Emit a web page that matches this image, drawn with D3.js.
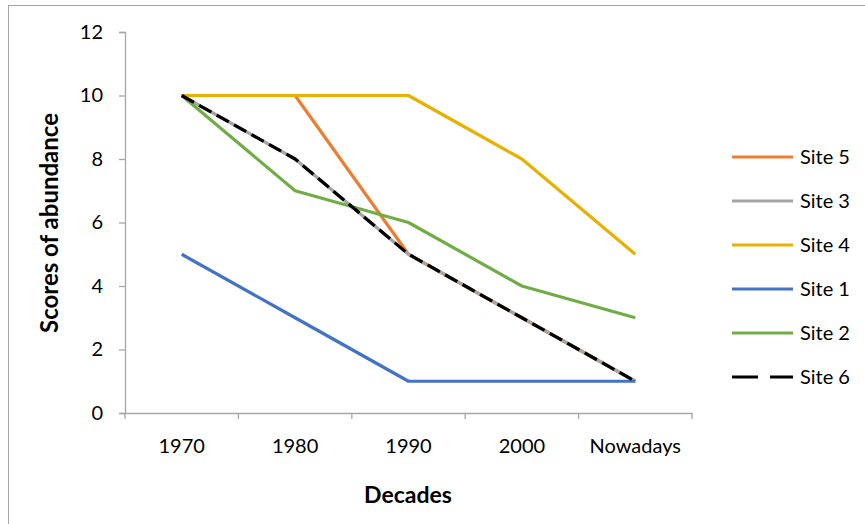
<!DOCTYPE html>
<html><head><meta charset="utf-8">
<script src="https://cdn.jsdelivr.net/npm/d3@7"></script>
<style>body{margin:0;background:#fff}svg{display:block}text{font-family:Lato,"Open Sans",sans-serif;fill:#000}</style>
</head><body><svg id="c" width="865" height="524"></svg>
<script>
const categories = ["1970","1980","1990","2000","Nowadays"];
const site5 = [10,10,5,3,1];
const site3 = [10,8,5,3,1];
const site4 = [10,10,10,8,5];
const site1 = [5,3,1,1,1];
const site2 = [10,7,6,4,3];
const site6 = [10,8,5,3,1];
const yTicks = [0,2,4,6,8,10,12];
const series = [
  {name:"Site 5", values:site5, color:"#ED7D31", dash:null},
  {name:"Site 3", values:site3, color:"#A5A5A5", dash:null},
  {name:"Site 4", values:site4, color:"#E8B000", dash:null},
  {name:"Site 1", values:site1, color:"#4472C4", dash:null},
  {name:"Site 2", values:site2, color:"#70AD47", dash:null},
  {name:"Site 6", values:site6, color:"#000000", dash:"14,6"}
];
const svg = d3.select("#c");
svg.append("rect").attr("x",8.5).attr("y",5.5).attr("width",900).attr("height",600)
  .attr("fill","none").attr("stroke","#a6a6a6").attr("stroke-width",1);
const L=125,R=692,T=32,B=413;
const x = d3.scaleBand().domain(categories).range([L,R]);
const y = d3.scaleLinear().domain([0,12]).range([B,T]);
const axCol="#a6a6a6";
const fs = 20;
// y axis
const ya = svg.append("g").attr("transform",`translate(${L},0)`)
  .call(d3.axisLeft(y).tickValues(yTicks).tickSize(6).tickPadding(16));
ya.select(".domain").attr("stroke",axCol).attr("stroke-width",1.3);
ya.selectAll(".tick line").attr("stroke",axCol).attr("stroke-width",1.3);
ya.selectAll(".tick text").attr("font-size",fs).style("font-family","Lato");
// x axis
const xa = svg.append("g").attr("transform",`translate(0,${B})`)
  .call(d3.axisBottom(x).tickSize(0).tickPadding(26));
xa.select(".domain").attr("stroke",axCol).attr("stroke-width",1.3);
xa.selectAll(".tick text").attr("font-size",fs).style("font-family","Lato");
const bounds = categories.map(c=>x(c)).concat([R]);
svg.append("g").selectAll("line").data(bounds).join("line")
  .attr("x1",d=>d).attr("x2",d=>d).attr("y1",B).attr("y2",B+6)
  .attr("stroke",axCol).attr("stroke-width",1.3);
// lines
const line = d3.line().x((d,i)=>x(categories[i])+x.bandwidth()/2).y(d=>y(d));
series.forEach(s=>{
  svg.append("path").attr("d",line(s.values)).attr("fill","none")
    .attr("stroke",s.color).attr("stroke-width",3.2)
    .attr("stroke-linejoin","round")
    .attr("stroke-dasharray",s.dash);
});
// legend
series.forEach((s,i)=>{
  const ly = 157 + i*44;
  svg.append("line").attr("x1",732).attr("x2",793).attr("y1",ly).attr("y2",ly)
    .attr("stroke",s.color).attr("stroke-width",3.2).attr("stroke-dasharray",s.dash?"26,12":null);
  svg.append("text").attr("x",800).attr("y",ly).attr("dy","0.36em").attr("font-size",fs).text(s.name);
});
// titles
svg.append("text").attr("x",408).attr("y",503).attr("text-anchor","middle")
  .attr("font-size",23).attr("font-weight","bold").text("Decades");
svg.append("text").attr("transform","translate(58,223) rotate(-90)").attr("text-anchor","middle")
  .attr("font-size",24).attr("font-weight","bold").text("Scores of abundance");
</script></body></html>
